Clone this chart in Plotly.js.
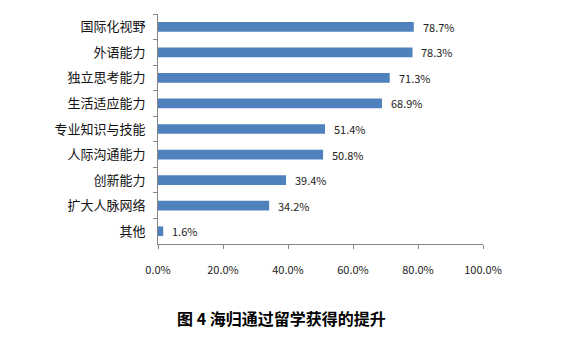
<!DOCTYPE html>
<html>
<head>
<meta charset="utf-8">
<script src="https://cdn.plot.ly/plotly-3.0.1.min.js"></script>
<style>html,body{margin:0;padding:0;background:#fff;}</style>
</head>
<body>
<div id="chart" style="width:563px;height:354px;"></div>
<script>
const categories = ["国际化视野","外语能力","独立思考能力","生活适应能力","专业知识与技能","人际沟通能力","创新能力","扩大人脉网络","其他"];
const values = [78.7, 78.3, 71.3, 68.9, 51.4, 50.8, 39.4, 34.2, 1.6];
const tickVals = [0, 20, 40, 60, 80, 100];
const tickText = ["0.0%","20.0%","40.0%","60.0%","80.0%","100.0%"];
const titleText = "图 4 海归通过留学获得的提升";

const font = "'Noto Sans CJK SC', 'DejaVu Sans', sans-serif";

const annotations = categories.map((c, i) => ({
  x: values[i], y: c, xref: 'x', yref: 'y',
  text: values[i].toFixed(1) + '%',
  showarrow: false, xanchor: 'left', xshift: 7,
  font: {family: font, size: 11, color: '#222'}
}));
annotations.push({
  xref: 'paper', yref: 'paper', x: 0.38, y: -0.32,
  xanchor: 'center', yanchor: 'middle', showarrow: false,
  text: '<b>' + titleText + '</b>',
  font: {family: font, size: 16, color: '#000'}
});

Plotly.newPlot('chart', [{
  type: 'bar', orientation: 'h',
  x: values, y: categories,
  marker: {color: '#4f81bd'},
  hoverinfo: 'none'
}], {
  width: 563, height: 354,
  margin: {l: 158, r: 80, t: 14, b: 110},
  paper_bgcolor: '#fff', plot_bgcolor: '#fff',
  bargap: 0.62,
  showlegend: false,
  xaxis: {
    range: [0, 100], tickvals: tickVals, ticktext: tickText,
    showgrid: false, zeroline: false,
    showline: true, linecolor: '#868686', linewidth: 1,
    ticks: 'outside', ticklen: 4, tickcolor: '#868686',
    ticklabelstandoff: 12,
    tickfont: {family: font, size: 11, color: '#222'},
    fixedrange: true
  },
  yaxis: {
    type: 'category', autorange: 'reversed',
    showgrid: false, zeroline: false,
    showline: true, linecolor: '#868686', linewidth: 1,
    ticks: 'outside', ticklen: 4, tickcolor: '#868686',
    tickson: 'boundaries',
    ticklabelstandoff: 9,
    tickfont: {family: font, size: 13, color: '#111'},
    fixedrange: true
  },
  annotations: annotations
}, {staticPlot: true});
</script>
</body>
</html>
